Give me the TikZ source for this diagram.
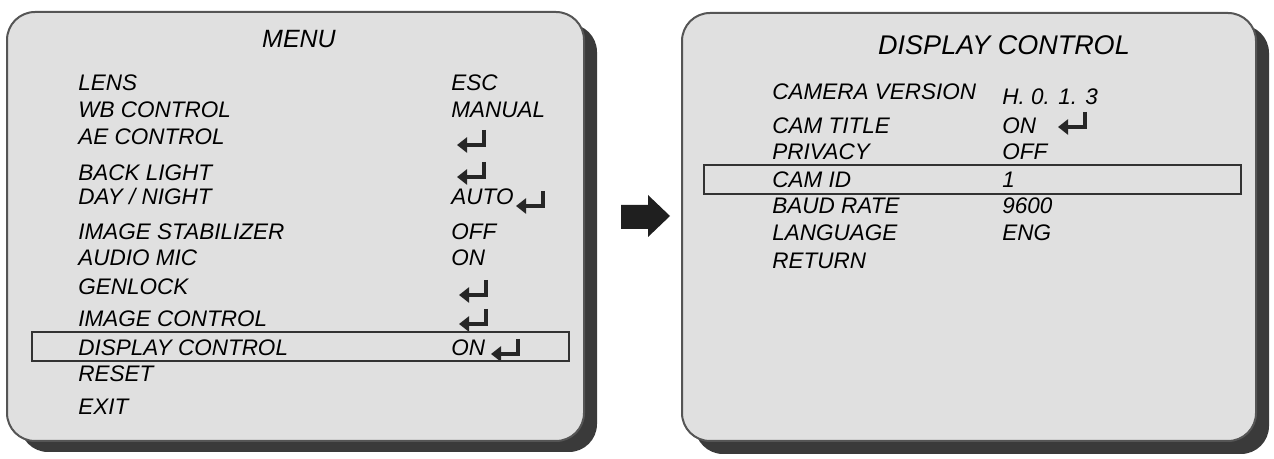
\documentclass[tikz,border=0pt]{standalone}
\usepackage{fontspec}
\setmainfont{Liberation Sans}
\usetikzlibrary{arrows.meta}

\definecolor{screen}{HTML}{E0E0E0}
\definecolor{rim}{HTML}{555555}
\definecolor{casedark}{HTML}{3A3A3A}

\tikzset{
  menutxt/.style={anchor=base west, inner sep=0pt, text=black,
    font=\fontsize{11.25}{13.5}\selectfont\itshape},
  menutitle/.style={inner sep=0pt, text=black},
  selbox/.style={draw=black!80, line width=1pt},
  retkey/.pic={\draw[black!85, line width=1.8pt, line join=miter,
    -{Triangle[length=5pt,width=7.5pt]}] (0,-15) -- (0,0) -- (-27,0);}
}

\begin{document}
\begin{tikzpicture}[x=0.5pt,y=-0.5pt]
    \useasboundingbox (0,0) rectangle (1274,459);
    % left screen
    \fill[casedark, rounded corners=14pt] (20,24) rectangle (597,452);
    \draw[rim, fill=screen, line width=1pt, rounded corners=14pt] (7,12) rectangle (584,441);
    \node[menutitle, font=\fontsize{12.5}{15}\selectfont\itshape] (menu) at (299,39) {MENU};
    \foreach \t/\y [count=\i] in {LENS/91, WB CONTROL/118, AE CONTROL/145,
        BACK LIGHT/181, {DAY / NIGHT}/205, IMAGE STABILIZER/240, AUDIO MIC/266,
        GENLOCK/295, IMAGE CONTROL/327, DISPLAY CONTROL/356, RESET/382, EXIT/415}
        \node[menutxt] (item\i) at (78,\y) {\t};
    \foreach \t/\y [count=\i] in {ESC/91, MANUAL/118, AUTO/205, OFF/240, ON/266, ON/356}
        \node[menutxt] (val\i) at (451,\y) {\t};
    \foreach \p in {(484,145),(484,177),(543,206),(486,295),(486,324),(518,354)}
        \pic at \p {retkey};
    \draw[selbox] (32,332) rectangle (569,361);

    % arrow between screens
    \fill[black!88] (621,205) -- (648,205) -- (648,195) -- (670,216)
        -- (648,237) -- (648,229) -- (621,229) -- cycle;

    % right screen
    \fill[casedark, rounded corners=14pt] (695,25) rectangle (1269,454);
    \draw[rim, fill=screen, line width=1pt, rounded corners=14pt] (682,13) rectangle (1256,441);
    \node[menutitle, font=\fontsize{13.5}{16}\selectfont\itshape] (disp) at (1004,45) {DISPLAY CONTROL};
    \foreach \t/\y [count=\i] in {CAMERA VERSION/100, CAM TITLE/134, PRIVACY/160,
        CAM ID/188, BAUD RATE/214, LANGUAGE/241, RETURN/269}
        \node[menutxt] (opt\i) at (772,\y) {\t};
    \foreach \t/\y [count=\i] in {H. 0. 1. 3/105, ON/134, OFF/160, 1/188, 9600/214, ENG/241}
        \node[menutxt] (set\i) at (1002,\y) {\t};
    \pic at (1085,127) {retkey};
    \draw[selbox] (704,165) rectangle (1241,194);
\end{tikzpicture}
\end{document}
